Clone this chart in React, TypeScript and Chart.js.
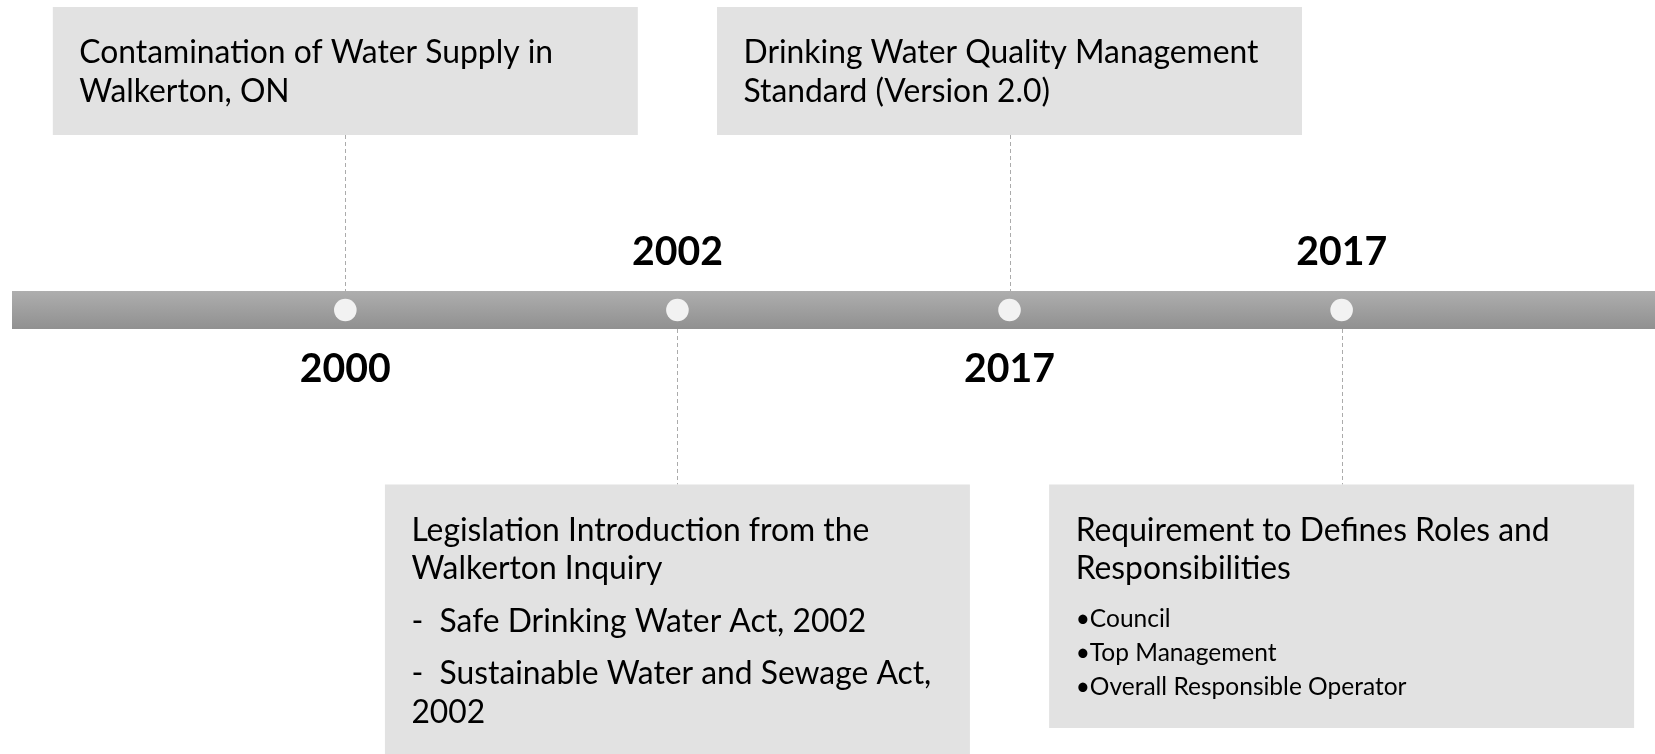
import React, { useEffect, useRef } from 'react';
import { Chart, registerables } from 'chart.js';

Chart.register(...registerables);

// ---- data ----
const eventYears = ['2000', '2002', '2017', '2017'];
const eventPositions = [0, 1, 2, 3];
const eventSides = ['top', 'bottom', 'top', 'bottom'];
const eventTitles = [
  ['Contamination of Water Supply in', 'Walkerton, ON'],
  ['Legislation Introduction from the', 'Walkerton Inquiry'],
  ['Drinking Water Quality Management', 'Standard (Version 2.0)'],
  ['Requirement to Defines Roles and', 'Responsibilities'],
];
const eventDetails = [
  [],
  [['-  Safe Drinking Water Act, 2002'], ['-  Sustainable Water and Sewage Act,', '2002']],
  [],
  [['•Council'], ['•Top Management'], ['•Overall Responsible Operator']],
];
const eventDetailKinds = ['para', 'para', 'para', 'bullet'];

// ---- layout / style ----
const FONT = 'Lato, "Open Sans", sans-serif';
const L = {
  boxW: 585,
  boxHeights: [128, 272, 128, 243.5],
  topBoxBottomGap: 175, // from bar centre up to top box bottom
  bottomBoxTopGap: 174.5, // from bar centre down to bottom box top
  barHalfTop: 19,
  barHalfBottom: 19,
  barLeft: 12,
  padX: 26.5,
  firstLine: 46,
  lineH: 38.5,
  paraGap: 52.6,
  bulletFirst: 50.5,
  bulletLineH: 33.7,
  yearAbove: 58,
  yearBelow: 59,
};

function fitSize(ctx: CanvasRenderingContext2D, text: string, target: number, weight: string) {
  ctx.font = `${weight} 100px ${FONT}`;
  const w = ctx.measureText(text).width;
  return (100 * target) / w;
}

const timelinePlugin = {
  id: 'timeline',
  beforeDatasetsDraw(chart: any) {
    const ctx: CanvasRenderingContext2D = chart.ctx;
    const xs = chart.scales.x;
    const ys = chart.scales.y;
    const yc = ys.getPixelForValue(0);
    const W = chart.width;

    const titleSize = fitSize(ctx, 'Contamination of Water Supply in', 474, 'normal');
    const bulletSize = fitSize(ctx, '•Overall Responsible Operator', 331, 'normal');
    const yearSize = fitSize(ctx, '2000', 91, 'bold');

    ctx.save();
    // bar
    const g = ctx.createLinearGradient(0, yc - L.barHalfTop, 0, yc + L.barHalfBottom);
    g.addColorStop(0, '#aeaeae');
    g.addColorStop(1, '#909090');
    ctx.fillStyle = g;
    ctx.fillRect(L.barLeft, yc - L.barHalfTop, W - L.barLeft, L.barHalfTop + L.barHalfBottom);

    eventPositions.forEach((p, i) => {
      const x = xs.getPixelForValue(p);
      const top = eventSides[i] === 'top';
      const h = L.boxHeights[i];
      const boxTop = top ? yc - L.topBoxBottomGap - h : yc + L.bottomBoxTopGap;
      const boxLeft = x - L.boxW / 2;

      // connector
      ctx.save();
      ctx.strokeStyle = '#ababab';
      ctx.lineWidth = 1;
      ctx.setLineDash([4, 3]);
      ctx.beginPath();
      if (top) {
        ctx.moveTo(Math.round(x) + 0.5, yc - L.topBoxBottomGap);
        ctx.lineTo(Math.round(x) + 0.5, yc - L.barHalfTop);
      } else {
        ctx.moveTo(Math.round(x) + 0.5, yc + L.barHalfBottom);
        ctx.lineTo(Math.round(x) + 0.5, yc + L.bottomBoxTopGap);
      }
      ctx.stroke();
      ctx.restore();

      // box
      ctx.fillStyle = '#e2e2e2';
      ctx.fillRect(boxLeft, boxTop, L.boxW, h);

      // text
      ctx.fillStyle = '#000000';
      ctx.textAlign = 'left';
      ctx.textBaseline = 'middle';
      ctx.font = `normal ${titleSize}px ${FONT}`;
      let ty = boxTop + L.firstLine;
      eventTitles[i].forEach((line, k) => {
        if (k > 0) ty += L.lineH;
        ctx.fillText(line, boxLeft + L.padX, ty);
      });
      const kind = eventDetailKinds[i];
      eventDetails[i].forEach((para, pi) => {
        if (kind === 'bullet') {
          ctx.font = `normal ${bulletSize}px ${FONT}`;
          ty += pi === 0 ? L.bulletFirst : L.bulletLineH;
          para.forEach((line, k) => {
            if (k > 0) ty += L.bulletLineH;
            ctx.fillText(line, boxLeft + L.padX, ty);
          });
        } else {
          ctx.font = `normal ${titleSize}px ${FONT}`;
          ty += L.paraGap;
          para.forEach((line, k) => {
            if (k > 0) ty += L.lineH;
            ctx.fillText(line, boxLeft + L.padX, ty);
          });
        }
      });

      // year label on opposite side
      ctx.font = `bold ${yearSize}px ${FONT}`;
      ctx.textAlign = 'center';
      ctx.fillText(eventYears[i], x, top ? yc + L.yearBelow : yc - L.yearAbove);
    });
    ctx.restore();
  },
};

export default function App() {
  const ref = useRef<HTMLCanvasElement | null>(null);
  useEffect(() => {
    if (!ref.current) return;
    const chart = new Chart(ref.current, {
      type: 'scatter',
      data: {
        datasets: [
          {
            data: eventPositions.map((p) => ({ x: p, y: 0 })),
            pointRadius: 11.3,
            pointBackgroundColor: '#f2f2f2',
            pointBorderWidth: 0,
            pointBorderColor: '#f2f2f2',
            clip: false,
          },
        ],
      },
      options: {
        animation: false,
        responsive: true,
        maintainAspectRatio: false,
        layout: { autoPadding: false, padding: { top: 0, left: 0, right: 0, bottom: 134 } },
        plugins: { legend: { display: false }, tooltip: { enabled: false } },
        events: [],
        scales: {
          x: { type: 'linear', min: -1.0398, max: 3.9436, display: false },
          y: { type: 'linear', min: -1, max: 1, display: false },
        },
      },
      plugins: [timelinePlugin],
    });
    return () => chart.destroy();
  }, []);
  return (
    <div style={{ position: 'fixed', left: 0, top: 0, width: 1655, height: 754, background: '#ffffff' }}>
      <canvas ref={ref} />
    </div>
  );
}
